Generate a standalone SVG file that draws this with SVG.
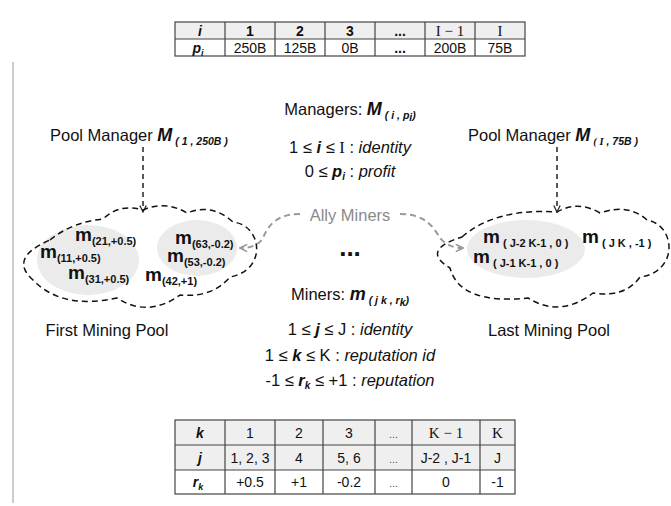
<svg xmlns="http://www.w3.org/2000/svg" width="671" height="506" viewBox="0 0 671 506">
<style>
text{font-family:"Liberation Sans",Arial,sans-serif;fill:#111}
.t{font-size:16.5px}
.tb{font-size:14px}
.b{font-weight:bold}
.bi{font-weight:bold;font-style:italic}
.it{font-style:italic}
.sf{font-family:"Liberation Serif","Times New Roman",serif}
.sub{font-size:10.5px;font-weight:bold;font-style:italic}
.msub{font-size:11px;font-weight:bold}
.m{font-size:19px;font-weight:bold}
.grid{stroke:#444;stroke-width:1.2;fill:none}
.cloud{fill:none;stroke:#111;stroke-width:1.5;stroke-dasharray:6 4}
.gray{fill:#ebebeb}
.arr{fill:none;stroke:#222;stroke-width:1.5;stroke-dasharray:5 4}
.ally{fill:none;stroke:#9a9a9a;stroke-width:2;stroke-dasharray:6 4}
</style>
<defs>
<marker id="ab" viewBox="0 0 10 10" refX="9" refY="5" markerWidth="8" markerHeight="8" orient="auto" markerUnits="userSpaceOnUse"><path d="M1,1 L9,5 L1,9" fill="none" stroke="#222" stroke-width="1.5"/></marker>
<marker id="ag" viewBox="0 0 10 10" refX="9" refY="5" markerWidth="9" markerHeight="9" orient="auto" markerUnits="userSpaceOnUse"><path d="M1,1 L9,5 L1,9" fill="none" stroke="#9a9a9a" stroke-width="1.8"/></marker>
</defs>
<rect width="671" height="506" fill="#fff"/>
<line x1="13" y1="62" x2="13" y2="503" stroke="#bdbdbd" stroke-width="1.5"/>

<g id="table-managers">
<rect x="175" y="22" width="350" height="17" fill="#efefef"/>
<rect x="175" y="22" width="350" height="34" class="grid"/>
<line x1="175" y1="39" x2="525" y2="39" class="grid"/>
<path class="grid" d="M225,22V56M275,22V56M325,22V56M375,22V56M425,22V56M475,22V56"/>
<g class="tb" text-anchor="middle">
<text x="200" y="35.5" class="bi">i</text>
<text x="250" y="35.5" class="b">1</text>
<text x="300" y="35.5" class="b">2</text>
<text x="350" y="35.5" class="b">3</text>
<text x="400" y="35.5" class="b">...</text>
<text x="450" y="35.5" class="sf" font-size="15">I − 1</text>
<text x="500" y="35.5" class="sf" font-size="15">I</text>
<text x="198" y="52.5" class="bi">p<tspan font-size="9" dy="3">i</tspan></text>
<text x="250" y="52.5">250B</text>
<text x="300" y="52.5">125B</text>
<text x="350" y="52.5">0B</text>
<text x="400" y="52.5" class="b">...</text>
<text x="450" y="52.5">200B</text>
<text x="500" y="52.5">75B</text>
</g>
</g>

<g id="managers-legend" class="t" text-anchor="middle">
<text x="350" y="115">Managers: <tspan class="bi" font-size="18">M</tspan><tspan class="sub" dx="3" dy="4">( i , p</tspan><tspan class="sub" font-size="8" dy="2">i</tspan><tspan class="sub" dy="-2">)</tspan></text>
<text x="350" y="153">1 ≤ <tspan class="bi">i</tspan> ≤ <tspan class="sf">I</tspan> : <tspan class="it">identity</tspan></text>
<text x="350" y="177">0 ≤ <tspan class="bi">p</tspan><tspan class="bi" font-size="10" dy="3">i</tspan><tspan dy="-3"> : </tspan><tspan class="it">profit</tspan></text>
</g>

<g id="pool-manager-first">
<text x="50" y="141" class="t">Pool Manager <tspan class="bi" font-size="18">M</tspan><tspan class="sub" dx="3" dy="4">( 1 , 250B )</tspan></text>
</g>
<g id="pool-manager-last">
<text x="468" y="141" class="t">Pool Manager <tspan class="bi" font-size="18">M</tspan><tspan class="sub" dx="3" dy="4"><tspan class="sf">( I</tspan> , 75B )</tspan></text>
</g>

<g id="first-mining-pool">
<ellipse cx="88" cy="260" rx="51" ry="35" class="gray"/>
<ellipse cx="197" cy="248" rx="40" ry="28" class="gray"/>
<path class="cloud" d="M50,240 Q72,222 103,219 Q120,203 143,210 Q165,200 187,213 Q212,203 233,222 C262,225 268,270 230,277 Q212,298 180,295 Q148,318 117,298 Q62,310 33,280 Q8,258 50,240 Z"/>
<text x="75" y="241" class="m">m<tspan class="msub" dy="4">(21,+0.5)</tspan></text>
<text x="40" y="258" class="m">m<tspan class="msub" dy="4">(11,+0.5)</tspan></text>
<text x="68" y="279" class="m">m<tspan class="msub" dy="4">(31,+0.5)</tspan></text>
<text x="145" y="281" class="m">m<tspan class="msub" dy="4">(42,+1)</tspan></text>
<text x="175" y="244" class="m">m<tspan class="msub" dy="4">(63,-0.2)</tspan></text>
<text x="167" y="262" class="m">m<tspan class="msub" dy="4">(53,-0.2)</tspan></text>
<text x="107" y="336" class="t" text-anchor="middle">First Mining Pool</text>
</g>

<g id="last-mining-pool">
<ellipse cx="526" cy="249" rx="59" ry="29" class="gray"/>
<path class="cloud" d="M462,237 Q495,208 557,212 Q578,200 600,213 Q628,203 647,220 C676,225 679,272 640,277 Q625,298 593,293 Q560,318 528,298 Q460,305 450,268 Q420,250 462,237 Z"/>
<text x="483" y="243" class="m">m<tspan class="msub" dx="3" dy="4">( J-2 K-1 , 0 )</tspan></text>
<text x="473" y="263" class="m">m<tspan class="msub" dx="3" dy="4">( J-1 K-1 , 0 )</tspan></text>
<text x="582" y="243" class="m">m<tspan class="msub" dx="3" dy="4">( J K , -1 )</tspan></text>
<text x="549" y="336" class="t" text-anchor="middle">Last Mining Pool</text>
</g>

<g id="ally-miners">
<text x="350" y="221" class="t" text-anchor="middle" style="fill:#8a8a8a">Ally Miners</text>
</g>
<g id="ellipsis">
<text x="350" y="256" text-anchor="middle" font-size="26" font-weight="bold">...</text>
</g>

<g id="connectors">
<path class="arr" d="M143,147 L143,212" marker-end="url(#ab)"/>
<path class="arr" d="M557,147 L557,212" marker-end="url(#ab)"/>
<path class="ally" d="M300,214 C276,214 268,226 263,238 Q257,248 240,248" marker-end="url(#ag)"/>
<path class="ally" d="M400,214 C426,214 434,228 440,238 Q448,248 463,248" marker-end="url(#ag)"/>
</g>

<g id="miners-legend" class="t" text-anchor="middle">
<text x="350" y="300">Miners: <tspan class="bi" font-size="18">m</tspan><tspan class="sub" dx="3" dy="4">( j k , r</tspan><tspan class="sub" font-size="8" dy="2">k</tspan><tspan class="sub" dy="-2">)</tspan></text>
<text x="350" y="335">1 ≤ <tspan class="bi">j</tspan> ≤ J : <tspan class="it">identity</tspan></text>
<text x="350" y="361">1 ≤ <tspan class="bi">k</tspan> ≤ K : <tspan class="it">reputation id</tspan></text>
<text x="350" y="386">-1 ≤ <tspan class="bi">r</tspan><tspan class="bi" font-size="10" dy="3">k</tspan><tspan dy="-3"> ≤ +1 : </tspan><tspan class="it">reputation</tspan></text>
</g>

<g id="table-miners">
<rect x="175" y="420" width="340" height="50" fill="#efefef"/>
<rect x="175" y="420" width="340" height="74" class="grid"/>
<path class="grid" d="M175,445H515M175,470H515M225,420V494M275,420V494M323,420V494M375,420V494M412,420V494M480,420V494"/>
<g class="tb" text-anchor="middle">
<text x="200" y="437.5" class="bi">k</text>
<text x="250" y="437.5">1</text>
<text x="299" y="437.5">2</text>
<text x="349" y="437.5">3</text>
<text x="393.5" y="437.5" style="fill:#555" font-size="11">...</text>
<text x="446" y="437.5" class="sf" font-size="15">K − 1</text>
<text x="497.5" y="437.5" class="sf" font-size="15">K</text>
<text x="200" y="462.5" class="bi">j</text>
<text x="250" y="462.5">1, 2, 3</text>
<text x="299" y="462.5">4</text>
<text x="349" y="462.5">5, 6</text>
<text x="393.5" y="462.5" style="fill:#555" font-size="11">...</text>
<text x="446" y="462.5">J-2 , J-1</text>
<text x="497.5" y="462.5">J</text>
<text x="198" y="487" class="bi">r<tspan font-size="9" dy="3">k</tspan></text>
<text x="250" y="487">+0.5</text>
<text x="299" y="487">+1</text>
<text x="349" y="487">-0.2</text>
<text x="393.5" y="487" style="fill:#555" font-size="11">...</text>
<text x="446" y="487">0</text>
<text x="497.5" y="487">-1</text>
</g>
</g>
</svg>
